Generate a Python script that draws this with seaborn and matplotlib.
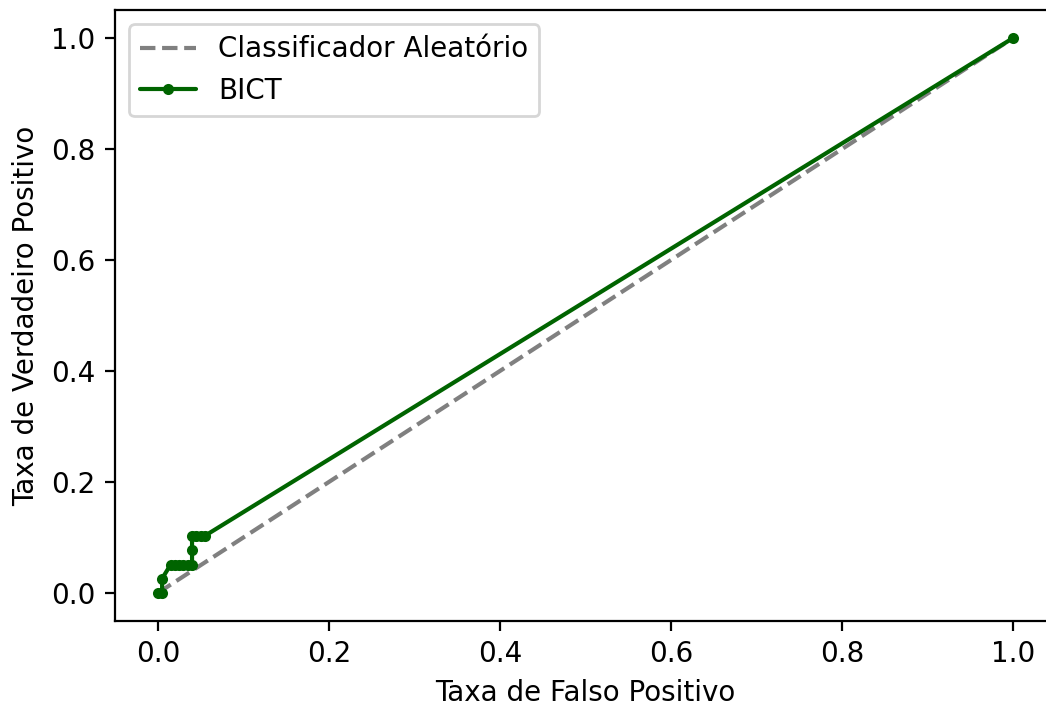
import numpy as np
import pandas as pd
import matplotlib
matplotlib.use("Agg")
import matplotlib.pyplot as plt
import seaborn as sns

# ROC points
fpr = [0.0, 0.005, 0.005, 0.015, 0.02, 0.025, 0.03, 0.035, 0.04, 0.04, 0.04, 0.045, 0.05, 0.055, 1.0]
tpr = [0.0, 0.0, 0.026, 0.051, 0.051, 0.051, 0.051, 0.051, 0.051, 0.077, 0.103, 0.103, 0.103, 0.103, 1.0]
diag = [0.0, 1.0]

sns.set_style("ticks", rc={"axes.edgecolor": "black", "text.color": "black",
                           "axes.labelcolor": "black", "xtick.color": "black",
                           "ytick.color": "black"})
plt.rcParams["font.family"] = ["DejaVu Sans"]

fig = plt.figure(figsize=(5.23, 3.53), dpi=200)
# the reference image is cut off on the right, so the axes run past the edge
ax = fig.add_axes([0.110, 0.1208, 0.8995, 0.8647])

sns.lineplot(x=diag, y=diag, ax=ax, color="gray", linestyle="--", linewidth=1.5,
             label="Classificador Aleatório", estimator=None, sort=False)
roc = pd.DataFrame({"fpr": fpr, "tpr": tpr})
sns.lineplot(data=roc, x="fpr", y="tpr", ax=ax, color="darkgreen", linewidth=1.5,
             marker="o", markersize=4, markeredgewidth=0, label="BICT",
             estimator=None, sort=False)

ax.set_xlabel("Taxa de Falso Positivo")
ax.set_ylabel("Taxa de Verdadeiro Positivo")
ax.legend(loc="upper left")

fig.savefig("out.png", dpi=200)
